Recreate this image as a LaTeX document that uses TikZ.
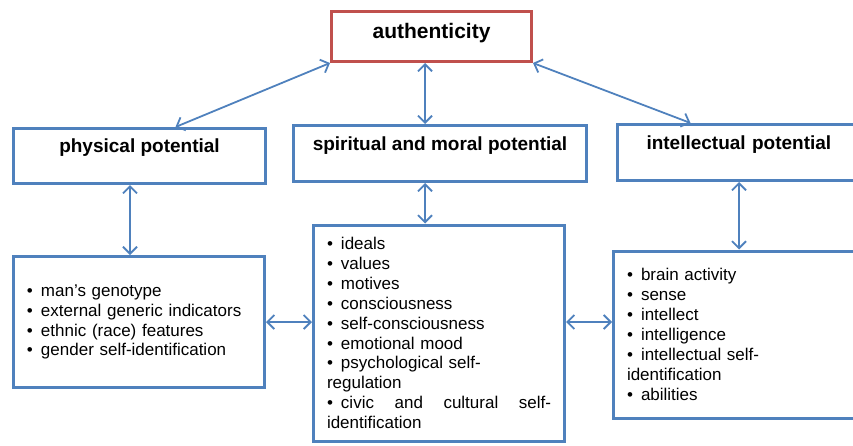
\documentclass[tikz,border=0pt]{standalone}
\usepackage{fontspec}
\setmainfont{Liberation Sans}
\usetikzlibrary{arrows.meta,positioning}
\definecolor{boxblue}{RGB}{79,129,189}
\definecolor{boxred}{RGB}{192,80,77}
% bullet with a fixed indent
\newcommand{\itm}{\makebox[14pt][l]{\textbullet}}

\begin{document}
\begin{tikzpicture}[x=1pt,y=-1pt,
  box/.style={draw=boxblue, line width=3pt, inner sep=0pt},
  head/.style={box, font=\fontsize{19}{22}\bfseries, text height=14pt, text depth=21pt},
  items/.style={box, font=\fontsize{17}{19.9}\selectfont, align=left, inner xsep=13.5pt},
  link/.style={draw=boxblue, line width=1.8pt, {Straight Barb[length=7pt,width=14pt]}-{Straight Barb[length=7pt,width=14pt]}}]
\clip (0,0) rectangle (853,445);
% Top
\node[box, draw=boxred, minimum width=200pt, minimum height=50pt,
  font=\fontsize{21}{24}\bfseries, text height=15pt, text depth=11pt] (auth) at (431.5,36.5) {authenticity};
% Potentials
\node[head, minimum width=252pt, minimum height=55pt] (phys) at (139.5,156) {physical potential};
\node[head, minimum width=293pt, minimum height=56pt] (spir) at (440,153.5) {spiritual and moral potential};
\node[head, minimum height=56pt, anchor=west, text width=240pt, align=left,
  inner xsep=29.5pt] (intel) at (615.5,152.5) {intellectual potential};
% Lists
\node[items, text width=224pt, minimum height=131pt] (physlist) at (139,322) {%
  \itm man’s genotype\\
  \itm external generic indicators\\
  \itm ethnic (race) features\\
  \itm gender self-identification};
\node[items, text width=224pt, minimum height=216pt] (spirlist) at (439,333) {%
  \itm ideals\\
  \itm values\\
  \itm motives\\
  \itm consciousness\\
  \itm self-consciousness\\
  \itm emotional mood\\
  \itm psychological self-\\
  regulation\\
  \makebox[224pt][s]{\itm civic\hfill and\hfill cultural\hfill self-}\\
  identification};
\node[items, text width=240pt, minimum height=167pt, anchor=west] (intellist) at (612,334.5) {%
  \itm brain activity\\
  \itm sense\\
  \itm intellect\\
  \itm intelligence\\
  \itm intellectual self-\\
  identification\\
  \itm abilities};
% Links
\draw[link] (auth.south west) -- ([xshift=36pt]phys.north);
\draw[link] ([xshift=-6.5pt]auth.south) -- ([xshift=-15pt]spir.north);
\draw[link] (auth.south east) -- ([xshift=75pt]intel.north west);
\draw[link] ([xshift=-9.5pt]phys.south) -- ([xshift=-9pt]physlist.north);
\draw[link] ([xshift=-15pt]spir.south) -- ([xshift=-14pt]spirlist.north);
\draw[link] ([xshift=123.5pt]intel.south west) -- ([xshift=127pt]intellist.north west);
\draw[link] (physlist.east) -- (physlist.east -| spirlist.west);
\draw[link] ([yshift=11pt]spirlist.east) -- ([yshift=11pt]spirlist.east -| intellist.west);
\end{tikzpicture}
\end{document}
